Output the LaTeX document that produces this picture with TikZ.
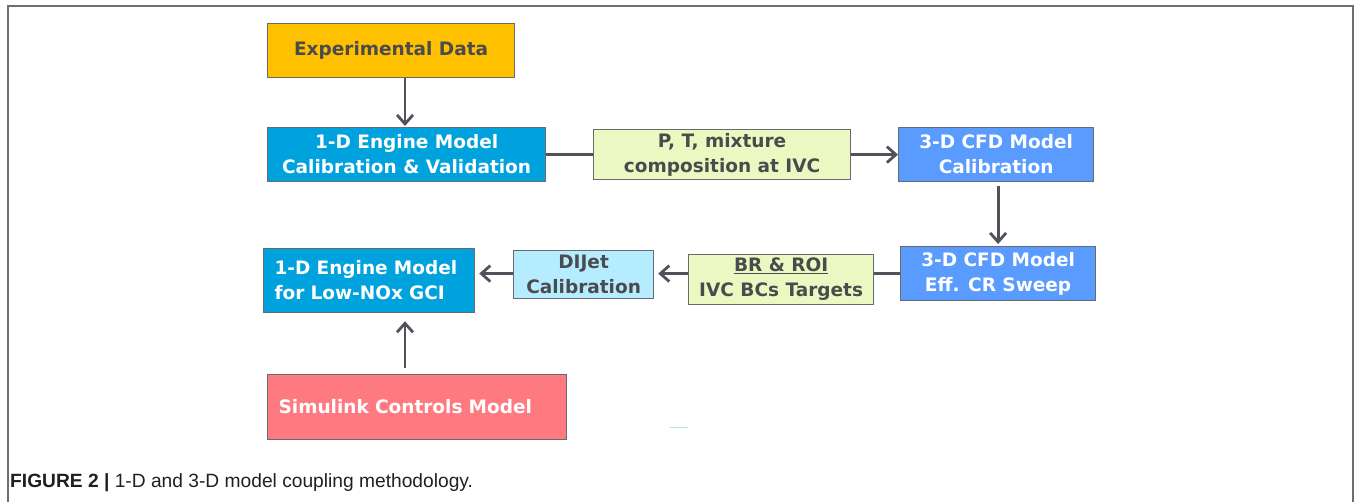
\documentclass[tikz,border=0pt]{standalone}
\usepackage{fontspec}
\setmainfont{Liberation Sans}
\newfontfamily\boxfont{DejaVu Sans}
\usetikzlibrary{arrows.meta}
\definecolor{bordergray}{RGB}{105,105,110}
\definecolor{arrowgray}{RGB}{80,84,90}
\definecolor{darktext}{RGB}{75,75,78}
\definecolor{expyellow}{RGB}{255,192,0}
\definecolor{onedblue}{RGB}{0,162,222}
\definecolor{threedblue}{RGB}{90,155,255}
\definecolor{lightgreen}{RGB}{236,248,194}
\definecolor{lightcyan}{RGB}{182,236,255}
\definecolor{simpink}{RGB}{255,122,128}
\definecolor{framegray}{RGB}{110,110,110}
\definecolor{speck}{RGB}{185,232,195}
\definecolor{captext}{RGB}{35,31,32}
\tikzset{
  boxbase/.style={draw=bordergray, line width=1.2pt, inner sep=0pt, anchor=north west,
    font=\boxfont\bfseries\fontsize{18.5}{25}\selectfont},
  cbox/.style={boxbase, align=center},
  lbox/.style={boxbase, align=left, text width=#1, inner xsep=11pt},
  arr/.style={draw=arrowgray, line width=2.8pt, -{Straight Barb[length=9pt,width=16pt]}},
  plain/.style={draw=arrowgray, line width=2.8pt},
}
\begin{document}
\begin{tikzpicture}[x=1pt,y=-1pt]
\useasboundingbox (0,0) rectangle (1354,502);
\draw[framegray, line width=1.5pt] (8,502) -- (8,6) -- (1353,6) -- (1353,502);

\node[cbox, fill=expyellow, text=darktext, minimum width=247pt, minimum height=54pt] (exp) at (267,23) {Experimental Data};
\node[cbox, fill=onedblue, text=white, minimum width=278pt, minimum height=54pt] (cal) at (267,127) {1-D Engine Model\\Calibration \& Validation};
\node[cbox, fill=lightgreen, text=darktext, minimum width=257pt, minimum height=50pt] (pt) at (593,129) {P, T, mixture\\composition at IVC};
\node[cbox, fill=threedblue, text=white, minimum width=195pt, minimum height=54pt] (cfd) at (898,127) {3-D CFD Model\\Calibration};
\node[cbox, fill=threedblue, text=white, minimum width=195pt, minimum height=54pt] (sweep) at (900,246) {3-D CFD Model\\Eff. CR Sweep};
\node[cbox, fill=lightgreen, text=darktext, minimum width=185pt, minimum height=50pt] (br) at (688,254) {\underline{BR \& ROI}\\IVC BCs Targets};
\node[cbox, fill=lightcyan, text=darktext, minimum width=140pt, minimum height=48pt] (dij) at (513,250) {DIJet\\Calibration};
\node[lbox=189pt, fill=onedblue, text=white, minimum height=64pt] (gci) at (263,248) {1-D Engine Model\\for Low-NOx GCI};
\node[lbox=277pt, fill=simpink, text=white, minimum height=65pt] (sim) at (267,374) {Simulink Controls Model};

\coordinate (vx) at (405,0);
\draw[arr] (exp.south -| vx) -- ([yshift=1pt]cal.north -| vx);
\draw[plain] (cal.east) -- (pt.west);
\draw[arr] (pt.east) -- (cfd.west |- pt.east);
\draw[arr] ([yshift=-4pt]cfd.south -| sweep.north) -- ([yshift=2pt]sweep.north);
\draw[plain] (sweep.west) -- (br.east |- sweep.west);
\draw[arr] (br.west |- sweep.west) -- ([xshift=4pt]dij.east |- sweep.west);
\draw[arr] (dij.west |- sweep.west) -- ([xshift=4pt]gci.east |- sweep.west);
\draw[arr] ([yshift=6pt]sim.north -| vx) -- ([yshift=-8pt]gci.south -| vx);

\draw[speck, line width=0.8pt] (670,427) -- (688,427);

\node[anchor=base west, inner sep=0pt, font=\fontsize{19.2}{22}\selectfont, text=captext] (cap) at (10,487) {\textbf{FIGURE 2 |} 1-D and 3-D model coupling methodology.};
\end{tikzpicture}
\end{document}
